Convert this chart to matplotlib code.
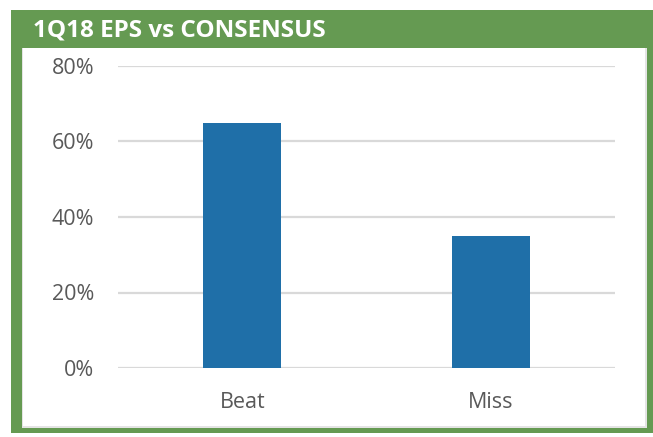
import matplotlib.pyplot as plt
from matplotlib.patches import Rectangle
import numpy as np

categories = ['Beat', 'Miss']
values = [65, 35]
yticks = [0, 20, 40, 60, 80]
title = '1Q18 EPS vs CONSENSUS'

W, H = 653, 437
GREEN = '#659A52'
BAR = '#1F6FA8'
GRID = '#D9D9D9'
TEXT = '#595959'

plt.rcParams['font.family'] = ['Open Sans', 'DejaVu Sans']

fig = plt.figure(figsize=(W / 100, H / 100), dpi=100)
fig.patch.set_facecolor('white')


def px_rect(x0, y0, x1, y1, **kw):
    return Rectangle((x0 / W, 1 - y1 / H), (x1 - x0) / W, (y1 - y0) / H,
                     transform=fig.transFigure, **kw)


# green frame with white panel, kept behind the axes
fig.patches.append(px_rect(11, 10, 653, 433, facecolor=GREEN, edgecolor='none', zorder=-3))
fig.patches.append(px_rect(22, 48, 647, 428, facecolor='#E4E4E4', edgecolor='none', zorder=-2))
fig.patches.append(px_rect(23, 48, 645, 426, facecolor='white', edgecolor='none', zorder=-1))

fig.text(33 / W, 1 - 31 / H, title, color='white', fontsize=17.5,
         fontweight='bold', va='center', ha='left')

ax = fig.add_axes([118 / W, 1 - 368 / H, 497 / W, 302 / H])
ax.set_facecolor('none')
x = np.arange(len(categories))
ax.bar(x, values, width=0.315, color=BAR, zorder=3)

ax.set_xlim(-0.5, len(categories) - 0.5)
ax.set_ylim(0, 80)
ax.set_yticks(yticks)
ax.set_yticklabels([f'{v}%' for v in yticks])
ax.set_xticks(x)
ax.set_xticklabels(categories)
ax.yaxis.grid(True, color=GRID, linewidth=1.6, zorder=0)
ax.xaxis.grid(False)
for s in ax.spines.values():
    s.set_visible(False)
ax.tick_params(axis='both', length=0, labelsize=15.5, labelcolor=TEXT)
ax.tick_params(axis='y', pad=17)
ax.tick_params(axis='x', pad=17)
ax.set_axisbelow(True)

fig.savefig('out.png', dpi=100)
